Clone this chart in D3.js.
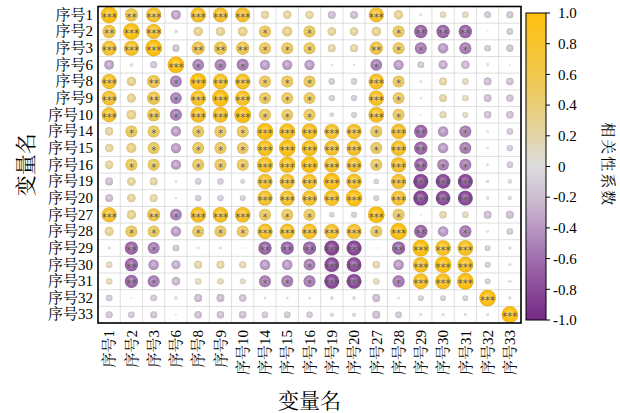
<!DOCTYPE html>
<html>
<head>
<meta charset="utf-8">
<script src="https://cdn.jsdelivr.net/npm/d3@7"></script>
<style>
  body { margin: 0; background: #fff; }
  text { font-family: "Liberation Serif", "Noto Serif CJK SC", "Noto Sans CJK SC", serif; }
</style>
</head>
<body>
<svg id="chart" width="620" height="413"></svg>
<script>
// Variable names (rows and columns of the matrix)
const variables = ["序号1","序号2","序号3","序号6","序号8","序号9","序号10","序号14","序号15","序号16",
                   "序号19","序号20","序号27","序号28","序号29","序号30","序号31","序号32","序号33"];

// Upper triangle of the correlation matrix: row i holds r(i, j) for j = i+1 ... n-1
const corrUpper = [
  [0.64, 0.80, -0.35, 0.82, 0.80, 0.80, 0.24, 0.26, 0.25, -0.22, -0.22, 0.80, 0.30, 0.03, 0.15, 0.15, -0.16, -0.18],
  [0.82, -0.04, 0.32, 0.30, 0.34, 0.52, 0.36, 0.52, 0.26, 0.26, 0.32, 0.52, -0.64, -0.64, -0.64, -0.01, -0.15],
  [-0.18, 0.62, 0.62, 0.62, 0.52, 0.52, 0.52, 0.22, 0.22, 0.62, 0.52, -0.52, -0.40, -0.52, -0.15, -0.18],
  [-0.50, -0.50, -0.52, -0.38, -0.38, -0.38, -0.02, -0.02, -0.50, -0.38, -0.16, -0.30, -0.26, -0.03, -0.01],
  [0.86, 0.86, 0.52, 0.52, 0.52, -0.14, -0.14, 0.86, 0.52, 0.02, 0.22, 0.15, -0.22, -0.20],
  [0.86, 0.52, 0.52, 0.52, -0.14, -0.14, 0.86, 0.52, 0.02, 0.22, 0.15, -0.22, -0.20],
  [0.52, 0.50, 0.52, -0.08, -0.12, 0.86, 0.52, 0.01, 0.18, 0.12, -0.20, -0.20],
  [0.92, 0.90, 0.82, 0.82, 0.52, 0.84, -0.64, -0.40, -0.52, -0.02, -0.15],
  [0.92, 0.82, 0.82, 0.52, 0.84, -0.64, -0.40, -0.52, -0.02, -0.15],
  [0.82, 0.82, 0.52, 0.84, -0.64, -0.50, -0.52, -0.02, -0.15],
  [0.86, -0.10, 0.80, -0.82, -0.78, -0.80, -0.04, -0.06],
  [-0.12, 0.80, -0.82, -0.78, -0.80, -0.04, -0.06],
  [0.52, 0.01, 0.20, 0.15, -0.22, -0.22],
  [-0.64, -0.40, -0.54, -0.02, -0.15],
  [0.88, 0.88, -0.12, -0.03],
  [0.90, -0.12, -0.03],
  [-0.12, -0.03],
  [-0.03]
];

// Significance level for the same cells (number of asterisks: 1 p<0.05, 2 p<0.01, 3 p<0.001)
const starsUpper = [
  [2,3,0,3,3,3,0,0,0,0,0,3,0,0,0,0,0,0],
  [3,0,0,0,0,1,0,1,0,0,0,1,2,2,2,0,0],
  [0,2,2,2,1,1,1,0,0,2,1,1,0,1,0,0],
  [1,1,1,0,0,0,0,0,1,0,0,0,0,0,0],
  [3,3,1,1,1,0,0,3,1,0,0,0,0,0],
  [3,1,1,1,0,0,3,1,0,0,0,0,0],
  [1,1,1,0,0,3,1,0,0,0,0,0],
  [3,3,3,3,1,3,2,0,1,0,0],
  [3,3,3,1,3,2,0,1,0,0],
  [3,3,1,3,2,1,1,0,0],
  [3,0,3,3,3,3,0,0],
  [0,3,3,3,3,0,0],
  [1,0,0,0,0,0],
  [2,0,1,0,0],
  [3,3,0,0],
  [3,0,0],
  [0,0],
  [0]
];

// Colour bar ticks
const legendTicks = [1.0, 0.8, 0.6, 0.4, 0.2, 0, -0.2, -0.4, -0.6, -0.8, -1.0];

const axisTitle = "变量名";
const legendTitle = "相关性系数";

// ---- build full symmetric matrix ----
const n = variables.length;
const cells = [];
for (let i = 0; i < n; i++) {
  for (let j = 0; j < n; j++) {
    let r, s;
    if (i === j) { r = 1; s = 3; }
    else if (i < j) { r = corrUpper[i][j - i - 1]; s = starsUpper[i][j - i - 1]; }
    else { r = corrUpper[j][i - j - 1]; s = starsUpper[j][i - j - 1]; }
    cells.push({ row: variables[i], col: variables[j], r, s });
  }
}

const svg = d3.select("#chart");
const plot = { left: 98, right: 521, top: 6.5, bottom: 323 };

const x = d3.scaleBand().domain(variables).range([plot.left, plot.right]);
const y = d3.scaleBand().domain(variables).range([plot.top, plot.bottom]);
const radius = d3.scaleSqrt().domain([0, 1]).range([0, 8.3]);
const color = d3.scaleLinear()
  .domain([-1, -0.75, -0.5, -0.25, 0, 0.25, 0.5, 0.75, 1])
  .range(["#762A85", "#8F529E", "#AC83B8", "#CAB6D0", "#DCDCDC", "#E5D39C", "#EDCA60", "#F6C433", "#FEC10F"])
  .interpolate(d3.interpolateRgb);

const defs = svg.append("defs");
const shine = defs.append("radialGradient").attr("id", "shine")
  .attr("cx", "50%").attr("cy", "50%").attr("r", "50%").attr("fx", "45%").attr("fy", "40%");
shine.append("stop").attr("offset", "0%").attr("stop-color", "#fff").attr("stop-opacity", 0.4);
shine.append("stop").attr("offset", "55%").attr("stop-color", "#fff").attr("stop-opacity", 0.08);
shine.append("stop").attr("offset", "85%").attr("stop-color", "#000").attr("stop-opacity", 0.0);
shine.append("stop").attr("offset", "100%").attr("stop-color", "#000").attr("stop-opacity", 0.15);

// grid lines
const grid = svg.append("g").attr("stroke", "#D6D6D6").attr("stroke-width", 0.8);
variables.forEach((v, k) => {
  if (k === 0) return;
  grid.append("line").attr("x1", x(v)).attr("x2", x(v)).attr("y1", plot.top).attr("y2", plot.bottom);
  grid.append("line").attr("y1", y(v)).attr("y2", y(v)).attr("x1", plot.left).attr("x2", plot.right);
});

// balls
const g = svg.append("g").selectAll("g").data(cells).join("g")
  .attr("transform", d => `translate(${x(d.col) + x.bandwidth() / 2},${y(d.row) + y.bandwidth() / 2})`);
g.append("circle").attr("r", d => radius(Math.abs(d.r))).attr("fill", d => color(d.r));
g.append("circle").attr("r", d => radius(Math.abs(d.r))).attr("fill", "url(#shine)");
g.filter(d => d.s > 0).append("text")
  .attr("text-anchor", "middle").attr("dy", "0.58em")
  .style("font-family", "DejaVu Sans").style("font-size", "10px").attr("fill", "#555")
  .text(d => "*".repeat(d.s));

// frame
svg.append("rect").attr("x", plot.left).attr("y", plot.top)
  .attr("width", plot.right - plot.left).attr("height", plot.bottom - plot.top)
  .attr("fill", "none").attr("stroke", "#000").attr("stroke-width", 1.6);

// axes
const yAxis = svg.append("g").attr("transform", `translate(${plot.left},0)`)
  .call(d3.axisLeft(y).tickSize(0).tickPadding(5));
yAxis.select(".domain").remove();
yAxis.selectAll("text").style("font-size", "15px").attr("fill", "#000")
  .style("font-family", "'Liberation Serif','Noto Serif CJK SC','Noto Sans CJK SC',serif");

const xAxis = svg.append("g").attr("transform", `translate(0,${plot.bottom})`)
  .call(d3.axisBottom(x).tickSize(0));
xAxis.select(".domain").remove();
xAxis.selectAll("text")
  .attr("transform", "rotate(-90)").attr("x", -7).attr("y", 0).attr("dy", "0.35em")
  .style("text-anchor", "end").style("font-size", "15px").attr("fill", "#000")
  .style("font-family", "'Liberation Serif','Noto Serif CJK SC','Noto Sans CJK SC',serif");

// axis titles
svg.append("text").attr("x", (plot.left + plot.right) / 2).attr("y", 408)
  .attr("text-anchor", "middle").style("font-size", "21px").text(axisTitle);
svg.append("text").attr("transform", `translate(33,${(plot.top + plot.bottom) / 2}) rotate(-90)`)
  .attr("text-anchor", "middle").style("font-size", "21px").text(axisTitle);

// colour bar
const cbar = { x: 526, w: 20 };
const cScale = d3.scaleLinear().domain([-1, 1]).range([320, 13]);
const lg = defs.append("linearGradient").attr("id", "cbar")
  .attr("x1", 0).attr("y1", 1).attr("x2", 0).attr("y2", 0);
d3.range(0, 1.0001, 0.05).forEach(t => {
  lg.append("stop").attr("offset", t).attr("stop-color", color(-1 + 2 * t));
});
svg.append("rect").attr("x", cbar.x).attr("y", cScale(1)).attr("width", cbar.w)
  .attr("height", cScale(-1) - cScale(1)).attr("fill", "url(#cbar)")
  .attr("stroke", "#000").attr("stroke-width", 1);
const lt = svg.append("g");
legendTicks.forEach(v => {
  lt.append("line").attr("x1", cbar.x + cbar.w).attr("x2", cbar.x + cbar.w + 4)
    .attr("y1", cScale(v)).attr("y2", cScale(v)).attr("stroke", "#000").attr("stroke-width", 1);
  lt.append("text").attr("x", 558).attr("dx", v < 0 ? -5 : 0).attr("y", cScale(v)).attr("dy", "0.35em")
    .style("font-size", "15px").text(v === 0 ? "0" : v.toFixed(1));
});
svg.append("text").attr("transform", `translate(603,${(plot.top + plot.bottom) / 2}) rotate(90)`)
  .attr("text-anchor", "middle").style("font-size", "15px").style("letter-spacing", "2px")
  .text(legendTitle);
</script>
</body>
</html>
